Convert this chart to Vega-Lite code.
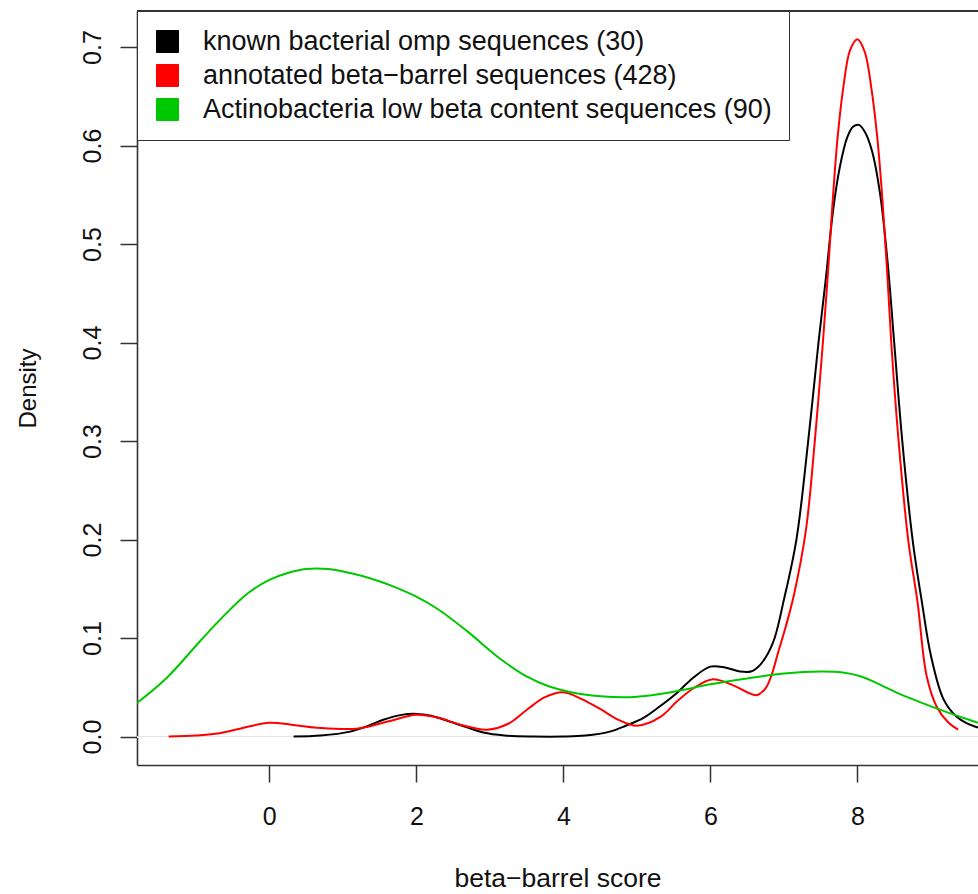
{
  "$schema": "https://vega.github.io/schema/vega-lite/v6.json",
  "width": 841,
  "height": 754,
  "autosize": {"type": "none"},
  "padding": {"left": 137, "top": 11, "right": 0, "bottom": 129},
  "background": "white",
  "config": {
    "view": {"stroke": null},
    "font": "Liberation Sans",
    "axis": {
      "grid": false,
      "domainColor": "#333",
      "domainWidth": 1.6,
      "tickColor": "#333",
      "tickWidth": 1.5,
      "tickSize": 17,
      "labelFont": "Liberation Sans",
      "labelFontSize": 25,
      "labelColor": "#111",
      "titleFont": "Liberation Sans",
      "titleFontSize": 25,
      "titleFontWeight": "normal",
      "titleColor": "#111"
    }
  },
  "data": {
    "values": [
      {"g": "known bacterial omp sequences (30)", "x": 0.33, "y": 0},
      {"g": "known bacterial omp sequences (30)", "x": 0.7, "y": 0.001},
      {"g": "known bacterial omp sequences (30)", "x": 1.1, "y": 0.005},
      {"g": "known bacterial omp sequences (30)", "x": 1.35, "y": 0.011},
      {"g": "known bacterial omp sequences (30)", "x": 1.55, "y": 0.017},
      {"g": "known bacterial omp sequences (30)", "x": 1.8, "y": 0.022},
      {"g": "known bacterial omp sequences (30)", "x": 2.0, "y": 0.023},
      {"g": "known bacterial omp sequences (30)", "x": 2.2, "y": 0.021},
      {"g": "known bacterial omp sequences (30)", "x": 2.46, "y": 0.015},
      {"g": "known bacterial omp sequences (30)", "x": 2.7, "y": 0.009},
      {"g": "known bacterial omp sequences (30)", "x": 2.91, "y": 0.004},
      {"g": "known bacterial omp sequences (30)", "x": 3.2, "y": 0.001},
      {"g": "known bacterial omp sequences (30)", "x": 3.6, "y": 0},
      {"g": "known bacterial omp sequences (30)", "x": 4.0, "y": 0},
      {"g": "known bacterial omp sequences (30)", "x": 4.3, "y": 0.001},
      {"g": "known bacterial omp sequences (30)", "x": 4.63, "y": 0.005},
      {"g": "known bacterial omp sequences (30)", "x": 4.85, "y": 0.011},
      {"g": "known bacterial omp sequences (30)", "x": 5.09, "y": 0.019},
      {"g": "known bacterial omp sequences (30)", "x": 5.3, "y": 0.03},
      {"g": "known bacterial omp sequences (30)", "x": 5.54, "y": 0.044},
      {"g": "known bacterial omp sequences (30)", "x": 5.77, "y": 0.06},
      {"g": "known bacterial omp sequences (30)", "x": 6.0, "y": 0.071},
      {"g": "known bacterial omp sequences (30)", "x": 6.2, "y": 0.07},
      {"g": "known bacterial omp sequences (30)", "x": 6.4, "y": 0.066},
      {"g": "known bacterial omp sequences (30)", "x": 6.55, "y": 0.066},
      {"g": "known bacterial omp sequences (30)", "x": 6.68, "y": 0.073},
      {"g": "known bacterial omp sequences (30)", "x": 6.85, "y": 0.095},
      {"g": "known bacterial omp sequences (30)", "x": 7.0, "y": 0.139},
      {"g": "known bacterial omp sequences (30)", "x": 7.17, "y": 0.2},
      {"g": "known bacterial omp sequences (30)", "x": 7.33, "y": 0.3},
      {"g": "known bacterial omp sequences (30)", "x": 7.47, "y": 0.4},
      {"g": "known bacterial omp sequences (30)", "x": 7.57, "y": 0.465},
      {"g": "known bacterial omp sequences (30)", "x": 7.67, "y": 0.535},
      {"g": "known bacterial omp sequences (30)", "x": 7.76, "y": 0.578},
      {"g": "known bacterial omp sequences (30)", "x": 7.86, "y": 0.608},
      {"g": "known bacterial omp sequences (30)", "x": 7.94, "y": 0.619},
      {"g": "known bacterial omp sequences (30)", "x": 8.02, "y": 0.621},
      {"g": "known bacterial omp sequences (30)", "x": 8.1, "y": 0.614},
      {"g": "known bacterial omp sequences (30)", "x": 8.2, "y": 0.594},
      {"g": "known bacterial omp sequences (30)", "x": 8.31, "y": 0.55},
      {"g": "known bacterial omp sequences (30)", "x": 8.41, "y": 0.482},
      {"g": "known bacterial omp sequences (30)", "x": 8.5, "y": 0.4},
      {"g": "known bacterial omp sequences (30)", "x": 8.61, "y": 0.3},
      {"g": "known bacterial omp sequences (30)", "x": 8.75, "y": 0.2},
      {"g": "known bacterial omp sequences (30)", "x": 8.88, "y": 0.135},
      {"g": "known bacterial omp sequences (30)", "x": 9.0, "y": 0.082},
      {"g": "known bacterial omp sequences (30)", "x": 9.17, "y": 0.038},
      {"g": "known bacterial omp sequences (30)", "x": 9.35, "y": 0.02},
      {"g": "known bacterial omp sequences (30)", "x": 9.5, "y": 0.013},
      {"g": "known bacterial omp sequences (30)", "x": 9.64, "y": 0.009},

      {"g": "annotated beta−barrel sequences (428)", "x": -1.37, "y": 0},
      {"g": "annotated beta−barrel sequences (428)", "x": -1.0, "y": 0.001},
      {"g": "annotated beta−barrel sequences (428)", "x": -0.71, "y": 0.003},
      {"g": "annotated beta−barrel sequences (428)", "x": -0.4, "y": 0.008},
      {"g": "annotated beta−barrel sequences (428)", "x": 0.0, "y": 0.014},
      {"g": "annotated beta−barrel sequences (428)", "x": 0.3, "y": 0.012},
      {"g": "annotated beta−barrel sequences (428)", "x": 0.65, "y": 0.009},
      {"g": "annotated beta−barrel sequences (428)", "x": 1.19, "y": 0.008},
      {"g": "annotated beta−barrel sequences (428)", "x": 1.6, "y": 0.015},
      {"g": "annotated beta−barrel sequences (428)", "x": 2.0, "y": 0.022},
      {"g": "annotated beta−barrel sequences (428)", "x": 2.3, "y": 0.019},
      {"g": "annotated beta−barrel sequences (428)", "x": 2.6, "y": 0.012},
      {"g": "annotated beta−barrel sequences (428)", "x": 2.96, "y": 0.007},
      {"g": "annotated beta−barrel sequences (428)", "x": 3.25, "y": 0.013},
      {"g": "annotated beta−barrel sequences (428)", "x": 3.5, "y": 0.027},
      {"g": "annotated beta−barrel sequences (428)", "x": 3.75, "y": 0.04},
      {"g": "annotated beta−barrel sequences (428)", "x": 4.0, "y": 0.045},
      {"g": "annotated beta−barrel sequences (428)", "x": 4.25, "y": 0.038},
      {"g": "annotated beta−barrel sequences (428)", "x": 4.5, "y": 0.028},
      {"g": "annotated beta−barrel sequences (428)", "x": 4.75, "y": 0.017},
      {"g": "annotated beta−barrel sequences (428)", "x": 5.0, "y": 0.011},
      {"g": "annotated beta−barrel sequences (428)", "x": 5.32, "y": 0.02},
      {"g": "annotated beta−barrel sequences (428)", "x": 5.55, "y": 0.036},
      {"g": "annotated beta−barrel sequences (428)", "x": 5.77, "y": 0.049},
      {"g": "annotated beta−barrel sequences (428)", "x": 6.02, "y": 0.058},
      {"g": "annotated beta−barrel sequences (428)", "x": 6.31, "y": 0.052},
      {"g": "annotated beta−barrel sequences (428)", "x": 6.5, "y": 0.045},
      {"g": "annotated beta−barrel sequences (428)", "x": 6.63, "y": 0.042},
      {"g": "annotated beta−barrel sequences (428)", "x": 6.75, "y": 0.049},
      {"g": "annotated beta−barrel sequences (428)", "x": 6.83, "y": 0.062},
      {"g": "annotated beta−barrel sequences (428)", "x": 6.92, "y": 0.085},
      {"g": "annotated beta−barrel sequences (428)", "x": 7.03, "y": 0.113},
      {"g": "annotated beta−barrel sequences (428)", "x": 7.14, "y": 0.145},
      {"g": "annotated beta−barrel sequences (428)", "x": 7.3, "y": 0.21},
      {"g": "annotated beta−barrel sequences (428)", "x": 7.42, "y": 0.3},
      {"g": "annotated beta−barrel sequences (428)", "x": 7.53, "y": 0.4},
      {"g": "annotated beta−barrel sequences (428)", "x": 7.6, "y": 0.472},
      {"g": "annotated beta−barrel sequences (428)", "x": 7.66, "y": 0.54},
      {"g": "annotated beta−barrel sequences (428)", "x": 7.73, "y": 0.608},
      {"g": "annotated beta−barrel sequences (428)", "x": 7.81, "y": 0.66},
      {"g": "annotated beta−barrel sequences (428)", "x": 7.9, "y": 0.697},
      {"g": "annotated beta−barrel sequences (428)", "x": 8.0, "y": 0.708},
      {"g": "annotated beta−barrel sequences (428)", "x": 8.1, "y": 0.695},
      {"g": "annotated beta−barrel sequences (428)", "x": 8.19, "y": 0.658},
      {"g": "annotated beta−barrel sequences (428)", "x": 8.27, "y": 0.608},
      {"g": "annotated beta−barrel sequences (428)", "x": 8.34, "y": 0.545},
      {"g": "annotated beta−barrel sequences (428)", "x": 8.4, "y": 0.477},
      {"g": "annotated beta−barrel sequences (428)", "x": 8.46, "y": 0.4},
      {"g": "annotated beta−barrel sequences (428)", "x": 8.56, "y": 0.3},
      {"g": "annotated beta−barrel sequences (428)", "x": 8.69, "y": 0.2},
      {"g": "annotated beta−barrel sequences (428)", "x": 8.82, "y": 0.135},
      {"g": "annotated beta−barrel sequences (428)", "x": 8.94, "y": 0.062},
      {"g": "annotated beta−barrel sequences (428)", "x": 9.08, "y": 0.03},
      {"g": "annotated beta−barrel sequences (428)", "x": 9.24, "y": 0.014},
      {"g": "annotated beta−barrel sequences (428)", "x": 9.37, "y": 0.007},

      {"g": "Actinobacteria low beta content sequences (90)", "x": -1.8, "y": 0.034},
      {"g": "Actinobacteria low beta content sequences (90)", "x": -1.39, "y": 0.06},
      {"g": "Actinobacteria low beta content sequences (90)", "x": -0.94, "y": 0.097},
      {"g": "Actinobacteria low beta content sequences (90)", "x": -0.6, "y": 0.124},
      {"g": "Actinobacteria low beta content sequences (90)", "x": -0.3, "y": 0.145},
      {"g": "Actinobacteria low beta content sequences (90)", "x": 0.0, "y": 0.159},
      {"g": "Actinobacteria low beta content sequences (90)", "x": 0.25, "y": 0.166},
      {"g": "Actinobacteria low beta content sequences (90)", "x": 0.5, "y": 0.17},
      {"g": "Actinobacteria low beta content sequences (90)", "x": 0.8, "y": 0.17},
      {"g": "Actinobacteria low beta content sequences (90)", "x": 1.1, "y": 0.166},
      {"g": "Actinobacteria low beta content sequences (90)", "x": 1.4, "y": 0.16},
      {"g": "Actinobacteria low beta content sequences (90)", "x": 1.7, "y": 0.152},
      {"g": "Actinobacteria low beta content sequences (90)", "x": 2.0, "y": 0.142},
      {"g": "Actinobacteria low beta content sequences (90)", "x": 2.3, "y": 0.129},
      {"g": "Actinobacteria low beta content sequences (90)", "x": 2.69, "y": 0.107},
      {"g": "Actinobacteria low beta content sequences (90)", "x": 3.14, "y": 0.079},
      {"g": "Actinobacteria low beta content sequences (90)", "x": 3.5, "y": 0.061},
      {"g": "Actinobacteria low beta content sequences (90)", "x": 3.8, "y": 0.051},
      {"g": "Actinobacteria low beta content sequences (90)", "x": 4.1, "y": 0.045},
      {"g": "Actinobacteria low beta content sequences (90)", "x": 4.5, "y": 0.041},
      {"g": "Actinobacteria low beta content sequences (90)", "x": 4.9, "y": 0.04},
      {"g": "Actinobacteria low beta content sequences (90)", "x": 5.2, "y": 0.042},
      {"g": "Actinobacteria low beta content sequences (90)", "x": 5.6, "y": 0.047},
      {"g": "Actinobacteria low beta content sequences (90)", "x": 6.0, "y": 0.053},
      {"g": "Actinobacteria low beta content sequences (90)", "x": 6.5, "y": 0.059},
      {"g": "Actinobacteria low beta content sequences (90)", "x": 7.0, "y": 0.064},
      {"g": "Actinobacteria low beta content sequences (90)", "x": 7.5, "y": 0.066},
      {"g": "Actinobacteria low beta content sequences (90)", "x": 7.8, "y": 0.065},
      {"g": "Actinobacteria low beta content sequences (90)", "x": 8.05, "y": 0.061},
      {"g": "Actinobacteria low beta content sequences (90)", "x": 8.3, "y": 0.053},
      {"g": "Actinobacteria low beta content sequences (90)", "x": 8.55, "y": 0.044},
      {"g": "Actinobacteria low beta content sequences (90)", "x": 8.85, "y": 0.035},
      {"g": "Actinobacteria low beta content sequences (90)", "x": 9.17, "y": 0.026},
      {"g": "Actinobacteria low beta content sequences (90)", "x": 9.4, "y": 0.02},
      {"g": "Actinobacteria low beta content sequences (90)", "x": 9.64, "y": 0.014}
    ]
  },
  "layer": [
    {
      "mark": {"type": "rule", "color": "#e4e4e4", "strokeWidth": 1},
      "encoding": {"y": {"datum": 0, "type": "quantitative"}}
    },
    {
      "mark": {"type": "rule", "color": "#333", "strokeWidth": 1.6},
      "encoding": {"y": {"datum": 0.7366, "type": "quantitative"}}
    },
    {
      "mark": {"type": "line", "strokeWidth": 2, "interpolate": "catmull-rom", "clip": true},
      "encoding": {
        "x": {
          "field": "x", "type": "quantitative",
          "scale": {"domain": [-1.8, 9.64], "nice": false, "zero": false},
          "axis": {"values": [0, 2, 4, 6, 8], "title": "beta−barrel score", "titleFontSize": 26.5, "labelPadding": 22, "titlePadding": 36, "labelFlush": false}
        },
        "y": {
          "field": "y", "type": "quantitative",
          "scale": {"domain": [-0.0289, 0.7366], "nice": false, "zero": false},
          "axis": {"values": [0, 0.1, 0.2, 0.3, 0.4, 0.5, 0.6, 0.7], "format": ".1f", "labelAngle": -90, "labelPadding": 15, "title": "Density", "titleFontSize": 24, "titlePadding": 40, "labelFlush": false}
        },
        "color": {
          "field": "g", "type": "nominal",
          "scale": {
            "domain": ["known bacterial omp sequences (30)", "annotated beta−barrel sequences (428)", "Actinobacteria low beta content sequences (90)"],
            "range": ["#000000", "#ff0000", "#00c800"]
          },
          "legend": {
            "orient": "none", "legendX": 0, "legendY": 0, "title": null,
            "symbolType": "square", "symbolSize": 484, "symbolStrokeWidth": 1, "symbolOpacity": 1,
            "labelFontSize": 27, "labelFont": "Liberation Sans", "labelColor": "#111", "labelLimit": 1000,
            "labelOffset": 22, "padding": 17, "rowPadding": 6,
            "fillColor": "white", "strokeColor": "#333",
            "encode": {
              "symbols": {
                "update": {
                  "fill": {"scale": "color", "field": "value"},
                  "stroke": {"value": "#111"},
                  "strokeWidth": {"value": 1},
                  "fillOpacity": {"value": 1}
                }
              }
            }
          }
        }
      }
    }
  ]
}
